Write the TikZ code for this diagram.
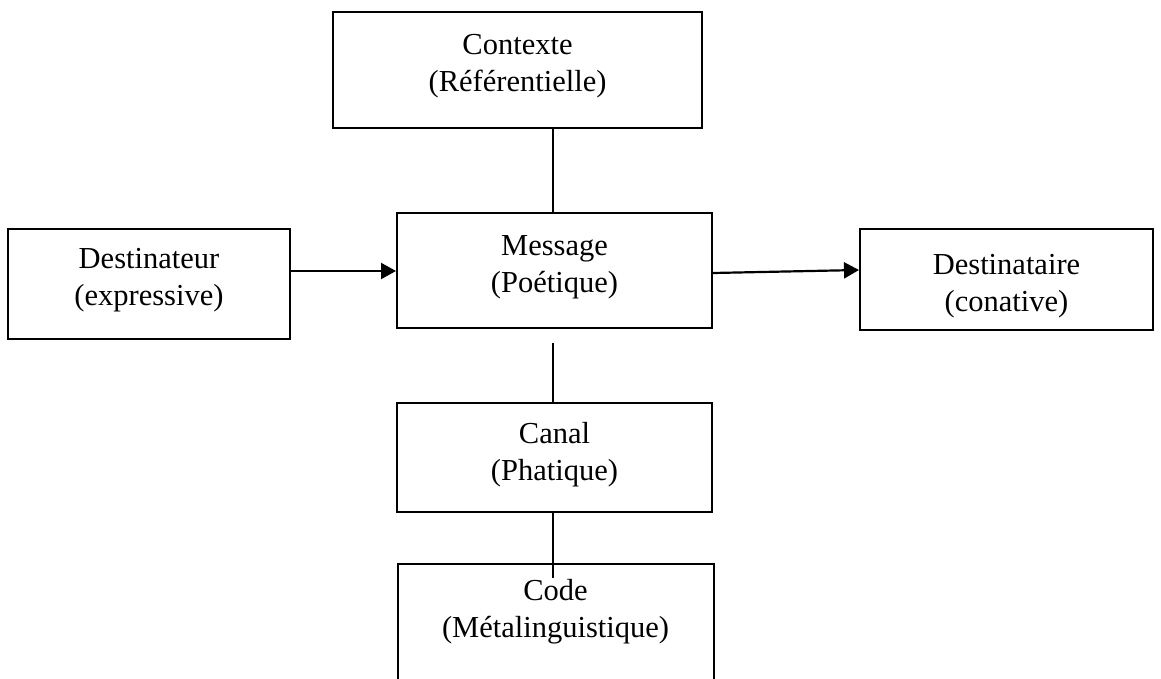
\documentclass[tikz,border=0pt]{standalone}
\usepackage{fontspec}
\setmainfont{Liberation Serif}
\usetikzlibrary{arrows.meta,calc}
\begin{document}
\begin{tikzpicture}[x=1pt,y=-1pt,
  boxst/.style={draw,line width=2pt,inner sep=0pt,align=center,font=\fontsize{30}{37}\selectfont},
  txt/.style={inner sep=0pt,align=center,font=\fontsize{30.5}{37}\selectfont},
  conn/.style={line width=1.8pt},
  arr/.style={line width=2.2pt,-{Triangle[length=15pt,width=16pt]}}]
\useasboundingbox (0,0) rectangle (1161,679);
\clip (0,0) rectangle (1161,679);
\node[boxst,minimum width=369pt,minimum height=116pt] (contexte) at (517.5,70) {};
\node[txt] (contextetxt) at (517.5,66) {Contexte\\(Référentielle)};
\node[boxst,minimum width=315pt,minimum height=115pt] (message) at (554.5,270.5) {};
\node[txt] (messagetxt) at (554.5,267) {Message\\(Poétique)};
\node[boxst,minimum width=282pt,minimum height=110pt] (dest) at (149,284) {};
\node[txt] (desttxt) at (149,280) {Destinateur\\(expressive)};
\node[boxst,minimum width=293pt,minimum height=101pt] (destaire) at (1006.5,279.5) {};
\node[txt] (destairetxt) at (1006.5,286) {Destinataire\\(conative)};
\node[boxst,minimum width=315pt,minimum height=109pt] (canal) at (554.5,457.5) {};
\node[txt] (canaltxt) at (554.5,455) {Canal\\(Phatique)};
\node[boxst,minimum width=316pt,minimum height=140pt,anchor=north] (code) at (555.5,563) {};
\node[txt] (codetxt) at (555.5,612) {Code\\(Métalinguistique)};
% connectors
\coordinate (c1) at (553,128);
\coordinate (c2) at (553,213);
\draw[conn] (c1) -- (c2);
\coordinate (c3) at (553,343);
\coordinate (c4) at (553,403);
\draw[conn] (c3) -- (c4);
\coordinate (c5) at (553,512);
\coordinate (c6) at (553,578);
\draw[conn] (c5) -- (c6);
\draw[arr] (dest.east |- 0,271) -- (message.west |- 0,271);
\draw[arr] (message.east |- 0,273) -- (destaire.west |- 0,270);
\end{tikzpicture}
\end{document}
